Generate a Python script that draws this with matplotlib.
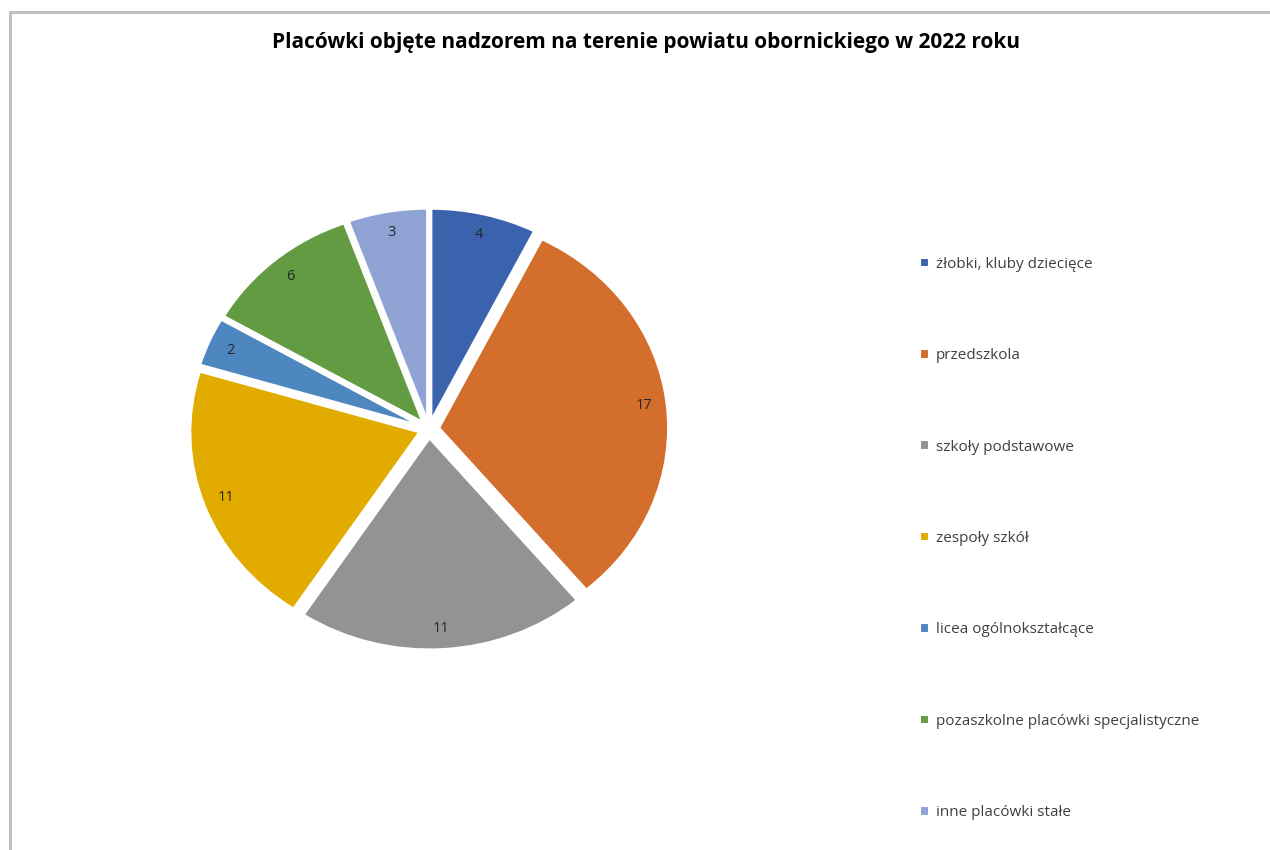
import matplotlib
matplotlib.use('Agg')
import matplotlib.pyplot as plt
from matplotlib.patches import Rectangle

plt.rcParams['font.family'] = ['Open Sans', 'DejaVu Sans']

title = 'Placówki objęte nadzorem na terenie powiatu obornickiego w 2022 roku'
categories = ['żłobki, kluby dziecięce', 'przedszkola', 'szkoły podstawowe',
              'zespoły szkół', 'licea ogólnokształcące',
              'pozaszkolne placówki specjalistyczne', 'inne placówki stałe']
counts = [4, 17, 11, 11, 2, 6, 3]
colors = ['#3b63ad', '#d36e2d', '#939393', '#e2ab00', '#4e87bf', '#629b41', '#8fa3d5']

total = sum(counts)

fig = plt.figure(figsize=(12.7, 8.5), dpi=100)
fig.patch.set_facecolor('white')

# pie axes - slightly wider than tall
ax = fig.add_axes([0.1034, 0.1726, 0.4687, 0.6454])
wedges, texts, autotexts = ax.pie(
    counts, colors=colors, startangle=90, counterclock=False,
    explode=[0.045] * len(counts),
    autopct=lambda p: '{:.0f}'.format(p * total / 100.0),
    pctdistance=0.9,
    wedgeprops=dict(edgecolor='white', linewidth=1.5),
    textprops=dict(fontsize=10.5, color='#262626'))
ax.set_aspect('auto')
ax.set_xlim(-1.3, 1.3)
ax.set_ylim(-1.3, 1.3)

fig.text(0.509, 0.95, title, ha='center', va='center',
         fontsize=15, fontweight='bold', color='black')

fig.legend(wedges, categories, loc='center left',
           bbox_to_anchor=(0.7245, 0.3665), frameon=False,
           borderpad=0, borderaxespad=0, labelspacing=5.0,
           handlelength=0.6, handleheight=0.6, handletextpad=0.45,
           prop=dict(size=11), labelcolor='#404040')

# chart area border (continues past the right and bottom edges)
fig.add_artist(Rectangle((0.0079, -0.05), 1.1, 1.0359, transform=fig.transFigure,
                         fill=False, edgecolor='#bfbfbf', linewidth=2.2))

fig.savefig('out.png', dpi=100, facecolor='white')
